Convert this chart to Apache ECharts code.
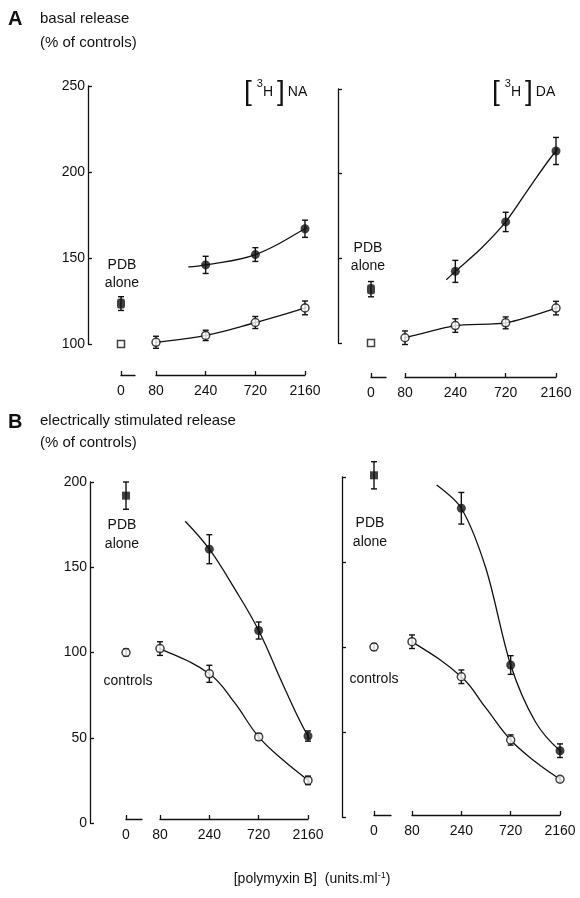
<!DOCTYPE html>
<html>
<head>
<meta charset="utf-8">
<script src="https://cdn.jsdelivr.net/npm/echarts@6/dist/echarts.min.js"></script>
<style>
html,body{margin:0;padding:0;background:#fff}
#main{width:580px;height:898px}
</style>
</head>
<body>
<div id="main"></div>
<script>
// polymyxin B concentrations (units/ml); spaced on a log3 scale, index 0..3
var concLabels = ['80', '240', '720', '2160'];
var zeroLabel = '0';

// A: basal release, [3H]NA
var aNaPdbPoly = [146, 152, 167];          // PDB + polymyxin at 240, 720, 2160
var aNaPdbPolyErr = [5, 4, 5];
var aNaPoly = [101, 105, 112.5, 121];      // polymyxin alone at 80..2160
var aNaPolyErr = [3.5, 3, 3.5, 4];
var aNaPdbAlone = [123.5, 4];
var aNaControl = 100;
var aNaPdbPolyCurve = [[0.65, 144.8], [1, 146], [2, 152], [3, 167], [3.3, 172.5]];
var aNaPolyCurve = [[-0.28, 100.4], [0, 101], [1, 105], [2, 112.5], [3, 121], [3.3, 125]];

// A: basal release, [3H]DA
var aDaPdbPoly = [142.3, 171.5, 213.4];
var aDaPdbPolyErr = [6.5, 5.7, 8];
var aDaPoly = [103.1, 110.3, 111.9, 120.6];
var aDaPolyErr = [4, 4, 3.5, 4];
var aDaPdbAlone = [131.8, 4.5];
var aDaControl = 100;
var aDaPdbPolyCurve = [[0.82, 137.3], [1, 142.3], [1.5, 155.5], [2, 171.5], [2.5, 193], [3, 213.4], [3.25, 219.3]];
var aDaPolyCurve = [[-0.11, 101.8], [0, 103.1], [1, 110.3], [2, 111.9], [3, 120.6], [3.19, 123.9]];

// B: electrically stimulated release, [3H]NA
var bNaPdbPoly = [160.6, 112.9, 51];
var bNaPdbPolyErr = [8.5, 5, 3];
var bNaPoly = [102.3, 87.5, 50.5, 25];
var bNaPolyErr = [4, 5, 2, 2.5];
var bNaPdbAlone = [192, 8];
var bNaControl = [100, 2];
var bNaPdbPolyCurve = [[0.51, 177], [1, 160.6], [1.5, 138], [2, 112.9], [2.5, 80.7], [3, 51], [3.25, 42.7]];
var bNaPolyCurve = [[-0.34, 105], [0, 102.3], [1, 87.5], [1.5, 71], [2, 50.5], [2.5, 36.8], [3, 25], [3.14, 21.2]];

// B: electrically stimulated release, [3H]DA
var bDaPdbPoly = [181.6, 89.4, 39];
var bDaPdbPolyErr = [9.3, 5.5, 4];
var bDaPoly = [103.1, 82.5, 45.3, 22.2];
var bDaPolyErr = [4, 4, 3, 1.5];
var bDaPdbAlone = [201, 8];
var bDaControl = [100, 2];
var bDaPdbPolyCurve = [[0.5, 195.3], [1, 181.6], [1.5, 146], [2, 89.4], [2.5, 56], [3, 39], [3.34, 34.5]];
var bDaPolyCurve = [[-0.41, 108], [0, 103.1], [1, 82.5], [1.5, 64], [2, 45.3], [2.5, 32.5], [3, 22.2], [3.08, 21]];

var INK = '#111';
var FONT = 'Liberation Sans';

var option = {
    backgroundColor: '#fff',
    animation: false,
    grid: [], xAxis: [], yAxis: [], series: [],
    graphic: []
};

function errRender(params, api) {
    var x = api.value(0), lo = api.value(1), hi = api.value(2);
    var p1 = api.coord([x, hi]), p2 = api.coord([x, lo]);
    var w = 3;
    var st = {stroke: INK, lineWidth: 1.4};
    return {
        type: 'group',
        children: [
            {type: 'line', shape: {x1: p1[0], y1: p1[1], x2: p2[0], y2: p2[1]}, style: st},
            {type: 'line', shape: {x1: p1[0] - w, y1: p1[1], x2: p1[0] + w, y2: p1[1]}, style: st},
            {type: 'line', shape: {x1: p2[0] - w, y1: p2[1], x2: p2[0] + w, y2: p2[1]}, style: st}
        ]
    };
}

function errData(xs, vals, errs) {
    return vals.map(function (v, i) { return [xs[i], v - errs[i], v + errs[i]]; });
}

function pts(xs, vals) {
    return vals.map(function (v, i) { return [xs[i], v]; });
}

var filledDot = {color: INK};
var openDot = {color: '#fff', borderColor: INK, borderWidth: 1.5};

// one panel = a narrow grid for "0" and a grid for the polymyxin range
function addPanel(b, d) {
    var gz = option.grid.length, gm = gz + 1;
    var h = b.bottom - b.top;
    option.grid.push({left: b.zeroLeft, top: b.top, width: b.zeroW, height: h});
    option.grid.push({left: b.mainLeft, top: b.top, width: b.mainRight - b.mainLeft, height: h});

    var xCommon = {
        type: 'value', position: 'bottom', offset: b.xOffset,
        axisLine: {onZero: false, lineStyle: {color: INK, width: 1.3}},
        axisTick: {inside: true, length: 4, lineStyle: {color: INK, width: 1.3}},
        axisLabel: {color: INK, fontFamily: FONT, fontSize: 14, margin: 9},
        splitLine: {show: false}
    };
    option.xAxis.push(Object.assign({}, xCommon, {
        gridIndex: gz, min: 0, max: 1, interval: 1,
        axisTick: Object.assign({}, xCommon.axisTick, {customValues: [0]}),
        axisLabel: Object.assign({}, xCommon.axisLabel, {customValues: [0], formatter: function () { return zeroLabel; }})
    }));
    option.xAxis.push(Object.assign({}, xCommon, {
        gridIndex: gm, min: 0, max: 3, interval: 1,
        axisLabel: Object.assign({}, xCommon.axisLabel, {formatter: function (v) { return concLabels[Math.round(v)]; }})
    }));

    option.yAxis.push({
        type: 'value', gridIndex: gz, min: b.yMin, max: b.yMax, interval: 50,
        position: 'left', offset: b.zeroLeft - b.axisX,
        axisLine: {show: true, onZero: false, lineStyle: {color: INK, width: 1.3}},
        axisTick: {show: true, inside: true, length: 4, lineStyle: {color: INK, width: 1.3}},
        axisLabel: {show: b.showY, color: INK, fontFamily: FONT, fontSize: 14, margin: 3},
        splitLine: {show: false}
    });
    option.yAxis.push({
        type: 'value', gridIndex: gm, min: b.yMin, max: b.yMax, show: false, splitLine: {show: false}
    });

    var idx = [0, 1, 2, 3], idx3 = [1, 2, 3];
    var zs = option.series;
    // error bars
    zs.push({type: 'custom', xAxisIndex: gm, yAxisIndex: gm, renderItem: errRender, z: 2,
        data: errData(idx3, d.pdbPoly, d.pdbPolyErr).concat(errData(idx, d.poly, d.polyErr))});
    var zeroErr = [[0, d.pdbAlone[0] - d.pdbAlone[1], d.pdbAlone[0] + d.pdbAlone[1]]];
    if (d.controlErr) zeroErr.push([0, d.control - d.controlErr, d.control + d.controlErr]);
    zs.push({type: 'custom', xAxisIndex: gz, yAxisIndex: gz, renderItem: errRender, z: 2, data: zeroErr});
    // fitted curves
    [d.pdbPolyCurve, d.polyCurve].forEach(function (c, k) {
        zs.push({type: 'line', xAxisIndex: gm, yAxisIndex: gm, data: c, smooth: k === 1 ? d.smoothOpen : d.smoothFilled,
            showSymbol: false, clip: false, z: 3, lineStyle: {color: INK, width: 1.3}});
    });
    // points
    zs.push({type: 'scatter', xAxisIndex: gm, yAxisIndex: gm, data: pts(idx3, d.pdbPoly), symbol: 'circle',
        symbolSize: 9, itemStyle: filledDot, z: 5});
    zs.push({type: 'scatter', xAxisIndex: gm, yAxisIndex: gm, data: pts(idx, d.poly), symbol: 'circle',
        symbolSize: 8, itemStyle: openDot, z: 5});
    zs.push({type: 'scatter', xAxisIndex: gz, yAxisIndex: gz, data: [[0, d.pdbAlone[0]]], symbol: d.pdbSymbol,
        symbolSize: d.pdbSymbol === 'rect' ? 8 : [8, 10], itemStyle: filledDot, z: 5, clip: false});
    zs.push({type: 'scatter', xAxisIndex: gz, yAxisIndex: gz, data: [[0, d.control]], symbol: d.controlSymbol,
        symbolSize: d.controlSymbol === 'rect' ? 7 : 8, itemStyle: openDot, z: 5, clip: false});
}

addPanel({axisX: 88, zeroLeft: 121, zeroW: 14, mainLeft: 156, mainRight: 305, top: 86, bottom: 344, xOffset: 31,
        yMin: 100, yMax: 250, showY: true},
    {pdbPoly: aNaPdbPoly, pdbPolyErr: aNaPdbPolyErr, poly: aNaPoly, polyErr: aNaPolyErr, pdbAlone: aNaPdbAlone,
        control: aNaControl, pdbPolyCurve: aNaPdbPolyCurve, polyCurve: aNaPolyCurve, pdbSymbol: 'roundRect',
        controlSymbol: 'rect', smoothFilled: 0.4, smoothOpen: 0.4});
addPanel({axisX: 338, zeroLeft: 371, zeroW: 15, mainLeft: 405, mainRight: 556, top: 89, bottom: 343, xOffset: 34,
        yMin: 100, yMax: 250, showY: false},
    {pdbPoly: aDaPdbPoly, pdbPolyErr: aDaPdbPolyErr, poly: aDaPoly, polyErr: aDaPolyErr, pdbAlone: aDaPdbAlone,
        control: aDaControl, pdbPolyCurve: aDaPdbPolyCurve, polyCurve: aDaPolyCurve, pdbSymbol: 'roundRect',
        controlSymbol: 'rect', smoothFilled: 0.3, smoothOpen: 0.2});
addPanel({axisX: 90, zeroLeft: 126, zeroW: 16, mainLeft: 160, mainRight: 308, top: 482, bottom: 823, xOffset: -4,
        yMin: 0, yMax: 200, showY: true},
    {pdbPoly: bNaPdbPoly, pdbPolyErr: bNaPdbPolyErr, poly: bNaPoly, polyErr: bNaPolyErr, pdbAlone: bNaPdbAlone,
        control: bNaControl[0], controlErr: bNaControl[1], pdbPolyCurve: bNaPdbPolyCurve, polyCurve: bNaPolyCurve,
        pdbSymbol: 'rect', controlSymbol: 'circle', smoothFilled: 0.4, smoothOpen: 0.4});
addPanel({axisX: 342, zeroLeft: 374, zeroW: 17, mainLeft: 412, mainRight: 560, top: 477, bottom: 817, xOffset: -2,
        yMin: 0, yMax: 200, showY: false},
    {pdbPoly: bDaPdbPoly, pdbPolyErr: bDaPdbPolyErr, poly: bDaPoly, polyErr: bDaPolyErr, pdbAlone: bDaPdbAlone,
        control: bDaControl[0], controlErr: bDaControl[1], pdbPolyCurve: bDaPdbPolyCurve, polyCurve: bDaPolyCurve,
        pdbSymbol: 'rect', controlSymbol: 'circle', smoothFilled: 0.3, smoothOpen: 0.4});

// texts
function txt(x, y, s, opt) {
    option.graphic.push({type: 'text', left: x, top: y, z: 10,
        style: Object.assign({text: s, fill: INK, font: '14px "' + FONT + '"'}, opt || {})});
}
function ctxt(cx, y, s, opt) {
    option.graphic.push({type: 'text', x: cx, y: y, z: 10,
        style: Object.assign({text: s, fill: INK, font: '14px "' + FONT + '"', align: 'center', verticalAlign: 'top'}, opt || {})});
}
txt(8, 9, 'A', {font: 'bold 20px "' + FONT + '"'});
txt(40, 11, 'basal release', {font: '15px "' + FONT + '"'});
txt(40, 35, '(% of controls)', {font: '15px "' + FONT + '"'});
txt(8, 412, 'B', {font: 'bold 20px "' + FONT + '"'});
txt(40, 413, 'electrically stimulated release', {font: '15px "' + FONT + '"'});
txt(40, 435, '(% of controls)', {font: '15px "' + FONT + '"'});

function isotope(x, y, name) {
    option.graphic.push({type: 'text', left: x, top: y, z: 10, style: {
        text: '{b|[}{s|3}{h|H}{b|]}{n|' + name + '}', fill: INK,
        rich: {
            b: {fontSize: 28, fontFamily: FONT, fontWeight: 'lighter', verticalAlign: 'middle', padding: [0, 2, 0, 2]},
            s: {fontSize: 11, fontFamily: FONT, verticalAlign: 'top', padding: [0, 0, 10, 3]},
            h: {fontSize: 14, fontFamily: FONT, verticalAlign: 'middle', padding: [0, 2, 0, 0]},
            n: {fontSize: 14, fontFamily: FONT, verticalAlign: 'middle', padding: [0, 0, 0, 1]}
        }
    }});
}
isotope(244, 78, 'NA');
isotope(492, 78, 'DA');

ctxt(122, 258, 'PDB');
ctxt(122, 276, 'alone');
ctxt(368, 241, 'PDB');
ctxt(368, 259, 'alone');
ctxt(122, 518, 'PDB');
ctxt(122, 537, 'alone');
ctxt(370, 516, 'PDB');
ctxt(370, 535, 'alone');
ctxt(128, 674, 'controls');
ctxt(374, 672, 'controls');
ctxt(312, 871, '[polymyxin B]  (units.ml{sup|-1})', {rich: {sup: {fontSize: 9, verticalAlign: 'top', padding: [0, 0, 8, 0]}}});

var myChart = echarts.init(document.getElementById('main'));
myChart.setOption(option);
window.addEventListener('resize', function () {
    myChart.resize();
});
</script>
</body>
</html>
